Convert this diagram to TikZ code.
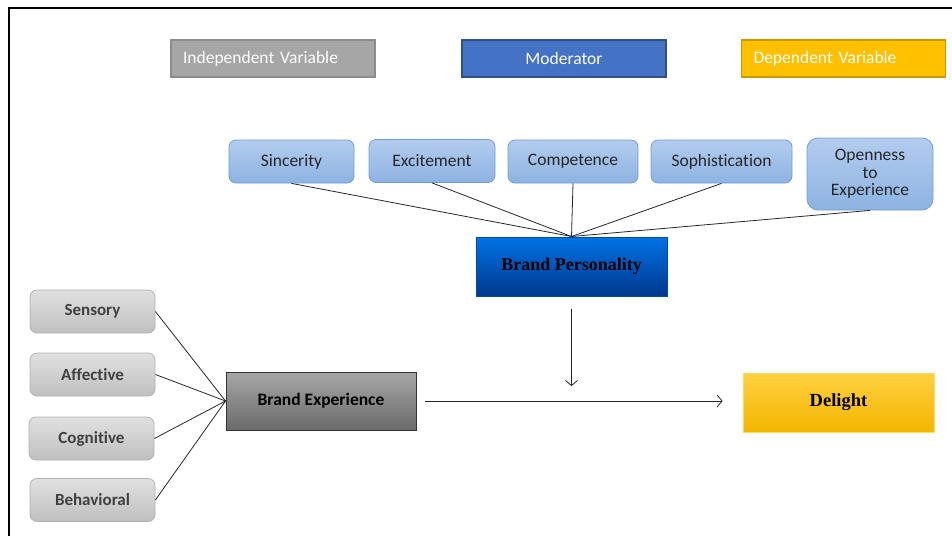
\documentclass[tikz,border=0pt]{standalone}
\usepackage{fontspec}
\setmainfont[Ligatures={NoCommon}]{Carlito}
\newfontfamily\timesbf{Liberation Serif}
\usetikzlibrary{arrows.meta}

\definecolor{ivgrey}{HTML}{A6A6A6}
\definecolor{modblue}{HTML}{4472C4}
\definecolor{dvgold}{HTML}{FFC000}
\definecolor{traittop}{HTML}{B3CCEE}
\definecolor{traitbot}{HTML}{8DB3E2}
\definecolor{traitline}{HTML}{6F9FD8}

\tikzset{
  legendbox/.style={draw, line width=1.2pt, text=white, minimum width=204pt, minimum height=37pt, font=\fontsize{17.5}{19}\selectfont},
  traitbox/.style={draw=traitline, line width=0.8pt, rounded corners=7pt, top color=traittop, bottom color=traitbot, text=black!85, minimum height=43pt, font=\fontsize{17.5}{19}\selectfont, align=center},
  dimbox/.style={draw=black!30, line width=0.8pt, rounded corners=7pt, top color=black!12, bottom color=black!25, text=black!75, minimum width=125pt, minimum height=43pt, font=\bfseries\fontsize{17}{19}\selectfont},
  link/.style={line width=0.8pt, black!85},
  flow/.style={line width=0.8pt, black!85, -{Straight Barb[length=5pt,width=12pt]}}
}

\begin{document}
\begin{tikzpicture}[x=1pt,y=-1pt]
  \useasboundingbox (0,0) rectangle (952,536);
  \draw[line width=2pt] (9,536) -- (9,8) -- (952,8);

  % legend
  \node[legendbox, fill=ivgrey, draw=black!45, text width=180pt] (iv) at (273,58.5) {Independent Variable};
  \node[legendbox, fill=modblue, draw=modblue!70!black] (mod) at (564,58.5) {Moderator};
  \node[legendbox, fill=dvgold, draw=dvgold!80!black, text width=180pt] (dv) at (843.5,58.5) {Dependent Variable};

  % brand personality and its traits
  \node[traitbox, minimum width=125pt] (sinc) at (291.5,161.5) {Sincerity};
  \node[traitbox, minimum width=126pt] (exc) at (432,161) {Excitement};
  \node[traitbox, minimum width=130pt] (comp) at (573,161.5) {Competence};
  \node[traitbox, minimum width=141pt] (soph) at (721.5,161.5) {Sophistication};
  \node[traitbox, minimum width=126pt, minimum height=72pt, rounded corners=11pt, font=\fontsize{17.5}{17.5}\selectfont] (open) at (870,174) {Openness\\to\\Experience};
  \node[draw=blue!60!cyan!70!black, line width=1pt, top color=blue!50!cyan!90!black, bottom color=blue!60!cyan!55!black, minimum width=191pt, minimum height=59pt, font=\timesbf\bfseries\fontsize{18}{20}\selectfont] (bp) at (571.5,266.5) {Brand Personality};

  \foreach \t in {sinc,exc,comp,soph,open}
    \draw[link] (\t.south) -- (bp.north);

  % brand experience and its dimensions
  \node[dimbox] (sens) at (92.5,311.5) {Sensory};
  \node[dimbox] (aff) at (92.5,374.5) {Affective};
  \node[dimbox] (cog) at (91.5,438.5) {Cognitive};
  \node[dimbox] (beh) at (92.5,500) {Behavioral};
  \node[draw=black!80, line width=1pt, top color=black!35, bottom color=black!58, minimum width=190pt, minimum height=58pt, font=\bfseries\fontsize{17.5}{19}\selectfont] (be) at (321,401) {Brand Experience};

  \foreach \d in {sens,aff,cog,beh}
    \draw[link] (\d.east) -- (be.west);

  % outcome
  \node[draw=dvgold!60, line width=0.8pt, top color=dvgold!75, bottom color=dvgold!95!black, minimum width=191pt, minimum height=59pt, font=\timesbf\bfseries\fontsize{18.5}{20}\selectfont] (del) at (838.5,402.5) {Delight};

  \coordinate (meet) at (571.5,386);
  \draw[flow, shorten <=8pt, shorten >=20pt] (be.east) -- (be.east -| del.west);
  \draw[flow, shorten <=12pt] (bp.south) -- (meet);
\end{tikzpicture}
\end{document}
